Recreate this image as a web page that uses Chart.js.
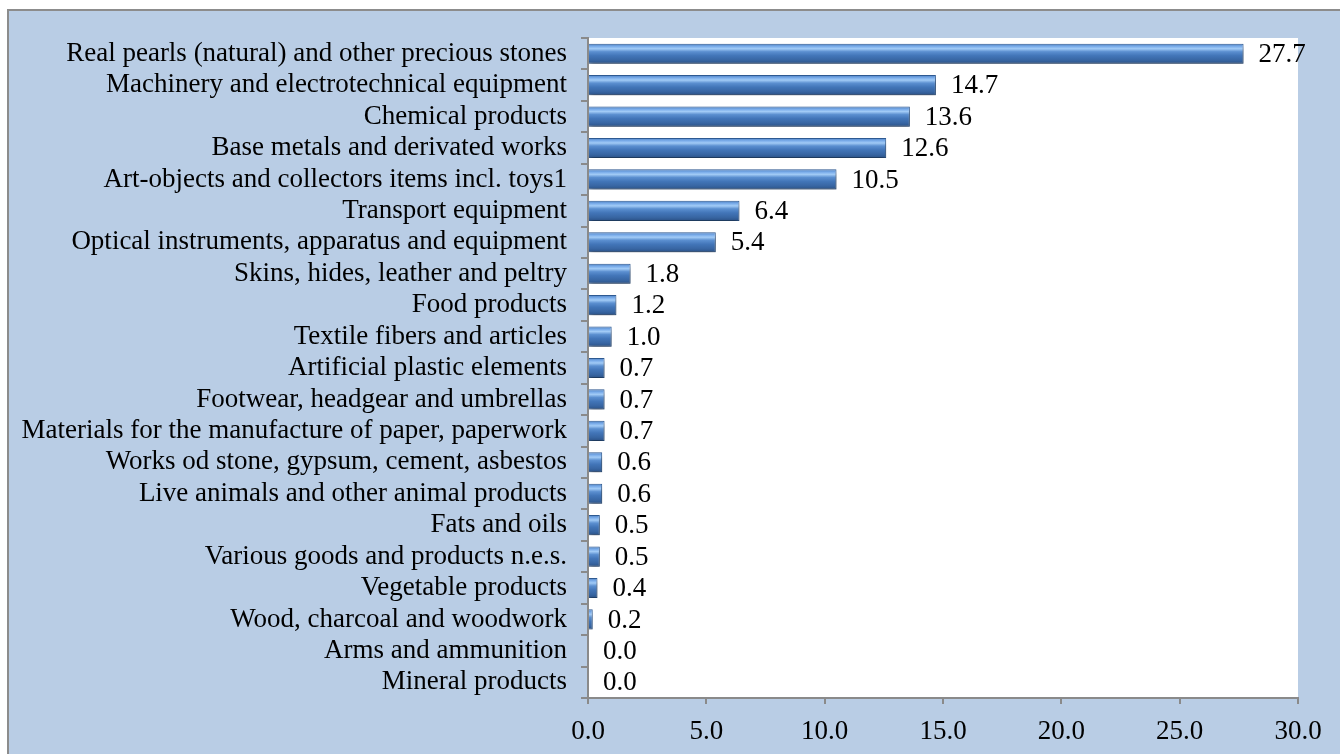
<!DOCTYPE html>
<html>
<head>
<meta charset="utf-8">
<script src="https://cdn.jsdelivr.net/npm/chart.js@4/dist/chart.umd.min.js"></script>
<style>
  html, body { margin: 0; padding: 0; background: #fff; }
  #wrap { width: 1340px; height: 754px; position: relative; }
</style>
</head>
<body>
<div id="wrap"><canvas id="chart" width="1340" height="754"></canvas></div>
<script>
// categories, top to bottom
const categories = [
    'Real pearls (natural) and other precious stones',
    'Machinery and electrotechnical equipment',
    'Chemical products',
    'Base metals and derivated works',
    'Art-objects and collectors items incl. toys1',
    'Transport equipment',
    'Optical instruments, apparatus and equipment',
    'Skins, hides, leather and peltry',
    'Food products',
    'Textile fibers and articles',
    'Artificial plastic elements',
    'Footwear, headgear and umbrellas',
    'Materials for the manufacture of paper, paperwork',
    'Works od stone, gypsum, cement, asbestos',
    'Live animals and other animal products',
    'Fats and oils',
    'Various goods and products n.e.s.',
    'Vegetable products',
    'Wood, charcoal and woodwork',
    'Arms and ammunition',
    'Mineral products'
];
const shares = [27.7, 14.7, 13.6, 12.6, 10.5, 6.4, 5.4, 1.8, 1.2, 1.0, 0.7, 0.7, 0.7, 0.6, 0.6, 0.5, 0.5, 0.4, 0.2, 0.0, 0.0];
const xTicks = [0, 5, 10, 15, 20, 25, 30];

const FONT = '"Liberation Serif", "Times New Roman", serif';
const FONT_SIZE = 27;
const AXIS_GREY = '#8a8a8a';
const BAR_PCT = 0.64;

// frame: blue panel with grey border, white plot area
const framePlugin = {
    id: 'frame',
    beforeDraw(chart) {
        const { ctx, chartArea } = chart;
        ctx.save();
        ctx.fillStyle = '#ffffff';
        ctx.fillRect(0, 0, chart.width, chart.height);
        ctx.fillStyle = '#b9cde5';
        ctx.fillRect(8, 10, chart.width, chart.height);
        ctx.strokeStyle = '#8c8c8c';
        ctx.lineWidth = 2;
        ctx.strokeRect(8, 10, chart.width + 10, chart.height + 10);
        ctx.fillStyle = '#ffffff';
        ctx.fillRect(chartArea.left, chartArea.top, chartArea.right - chartArea.left, chartArea.bottom - chartArea.top);
        ctx.restore();
    }
};

// soft shadow under bars + value labels
const barExtras = {
    id: 'barExtras',
    beforeDatasetsDraw(chart) {
        const ctx = chart.ctx;
        ctx.save();
        ctx.shadowColor = 'rgba(0,0,0,0.4)';
        ctx.shadowBlur = 5;
        ctx.shadowOffsetY = 4;
        ctx.shadowOffsetX = 1;
    },
    afterDatasetsDraw(chart) {
        const ctx = chart.ctx;
        ctx.restore();
        ctx.save();
        ctx.font = FONT_SIZE + 'px ' + FONT;
        ctx.fillStyle = '#000';
        ctx.textAlign = 'left';
        ctx.textBaseline = 'middle';
        chart.getDatasetMeta(0).data.forEach((bar, i) => {
            ctx.fillText(shares[i].toFixed(1), bar.x + 15, bar.y + 1);
        });
        ctx.restore();
    }
};

function barGradient(context) {
    const chart = context.chart;
    const yScale = chart.scales.y;
    if (!chart.chartArea || !yScale) return '#4f81bd';
    const row = (yScale.bottom - yScale.top) / categories.length;
    const cy = yScale.getPixelForValue(context.dataIndex);
    const h = row * BAR_PCT;
    const top = cy - h / 2;
    const g = chart.ctx.createLinearGradient(0, top, 0, top + h);
    g.addColorStop(0, '#4a7fc4');
    g.addColorStop(0.15, '#7fb0ec');
    g.addColorStop(0.25, '#a2cbf6');
    g.addColorStop(0.4, '#5b8fd0');
    g.addColorStop(0.6, '#4275b8');
    g.addColorStop(0.82, '#3866a3');
    g.addColorStop(1, '#2b5186');
    return g;
}

new Chart(document.getElementById('chart'), {
    type: 'bar',
    data: {
        labels: categories,
        datasets: [{
            data: shares,
            backgroundColor: barGradient,
            borderColor: '#2e5a92',
            borderWidth: 1,
            barPercentage: BAR_PCT,
            categoryPercentage: 1
        }]
    },
    options: {
        indexAxis: 'y',
        responsive: false,
        animation: false,
        layout: { padding: { left: 8, top: 38, right: 42, bottom: 0 } },
        plugins: { legend: { display: false }, tooltip: { enabled: false } },
        scales: {
            x: {
                min: 0, max: 30,
                afterBuildTicks(scale) { scale.ticks = xTicks.map(v => ({ value: v })); },
                afterFit(scale) { scale.height = 56; },
                grid: { drawOnChartArea: false, tickLength: 6, color: AXIS_GREY, lineWidth: 2 },
                border: { display: true, color: AXIS_GREY, width: 2 },
                ticks: {
                    padding: 12,
                    color: '#000',
                    font: { family: FONT, size: FONT_SIZE },
                    callback: v => Number(v).toFixed(1)
                }
            },
            y: {
                afterFit(scale) { scale.width = 580; },
                grid: { drawOnChartArea: false, offset: true, tickLength: 7, color: AXIS_GREY, lineWidth: 2 },
                border: { display: true, color: AXIS_GREY, width: 2 },
                ticks: {
                    padding: 14,
                    color: '#000',
                    autoSkip: false,
                    font: { family: FONT, size: FONT_SIZE, lineHeight: 1 }
                }
            }
        }
    },
    plugins: [framePlugin, barExtras]
});
</script>
</body>
</html>
